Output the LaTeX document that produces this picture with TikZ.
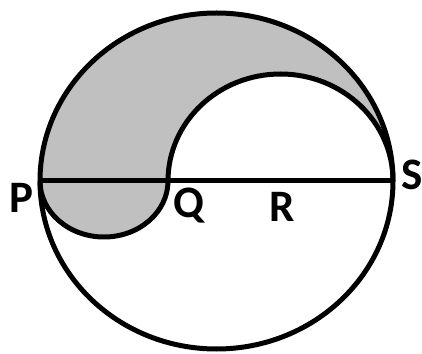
\documentclass[tikz,border=0pt]{standalone}
\usepackage{fontspec}
\setmainfont{Carlito}
\begin{document}
\begin{tikzpicture}[x=1pt,y=1pt,
  curve/.style={line width=5pt},
  lbl/.style={font=\fontsize{45}{45}\selectfont\bfseries, inner sep=0pt, anchor=base}]
\useasboundingbox (0,0) rectangle (422,353);
\coordinate (P) at (40,172);
\coordinate (Q) at (168,172);
\coordinate (S) at (393,172);
\coordinate (O) at (216.5,172);
% shaded region
\fill[fill={rgb,255:red,192;green,192;blue,192}] (P)
  arc[start angle=180,end angle=0,x radius=176.5,y radius=168]
  arc[start angle=0,end angle=180,x radius=112.5,y radius=107]
  arc[start angle=0,end angle=-180,x radius=64,y radius=56] -- cycle;
% outlines
\draw[curve] (O) ellipse[x radius=176.5,y radius=168];
\draw[curve] (P) -- (S);
\draw[curve] (S) arc[start angle=0,end angle=180,x radius=112.5,y radius=107];
\draw[curve] (Q) arc[start angle=0,end angle=-180,x radius=64,y radius=56];
% labels
\node[lbl] (lP) at (21,140) {P};
\node[lbl] (lQ) at (189,135) {Q};
\node[lbl] (lR) at (282,131) {R};
\node[lbl] (lS) at (412,163) {S};
\end{tikzpicture}
\end{document}
